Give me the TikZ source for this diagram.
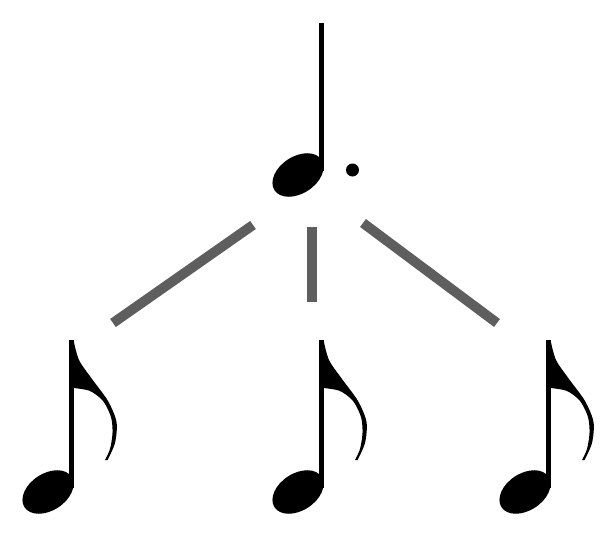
\documentclass[tikz,border=0pt]{standalone}
\usetikzlibrary{positioning}

\tikzset{
  split/.style={draw=black!63, line width=5.6pt},
  notehead/.pic={\fill[rotate=33] (0,0) ellipse [x radius=28, y radius=18.5];
                 \fill (21.3,4) rectangle (26,152);},
  dotquarter/.pic={\pic {notehead};
                   \fill (54.5,5) circle (6.5);},
  eighth/.pic={\pic {notehead};
     \fill plot[smooth] coordinates {(25.5,152) (31,132) (44,113) (60,91) (68.5,70) (67,49) (59.5,32)}
        -- plot[smooth] coordinates {(57,32) (62,43) (64.5,59) (63,75) (55,91) (42,101) (25.5,104)}
        -- cycle;}
}

\begin{document}
\begin{tikzpicture}[x=0.02cm, y=0.02cm]
\useasboundingbox (0,0) rectangle (610,539);

% the dotted quarter and its three eighths
\pic (whole) at (298,364) {dotquarter};
\pic (left) at (48,47) {eighth};
\pic (mid) at (298,47) {eighth};
\pic (right) at (525,47) {eighth};

% split lines
\coordinate (l1a) at (253,314);
\coordinate (l1b) at (113,216);
\coordinate (l2a) at (312,312);
\coordinate (l2b) at (312,237);
\coordinate (l3a) at (363,316);
\coordinate (l3b) at (497,216);
\draw[split] (l1a) -- (l1b);
\draw[split] (l2a) -- (l2b);
\draw[split] (l3a) -- (l3b);
\end{tikzpicture}
\end{document}
